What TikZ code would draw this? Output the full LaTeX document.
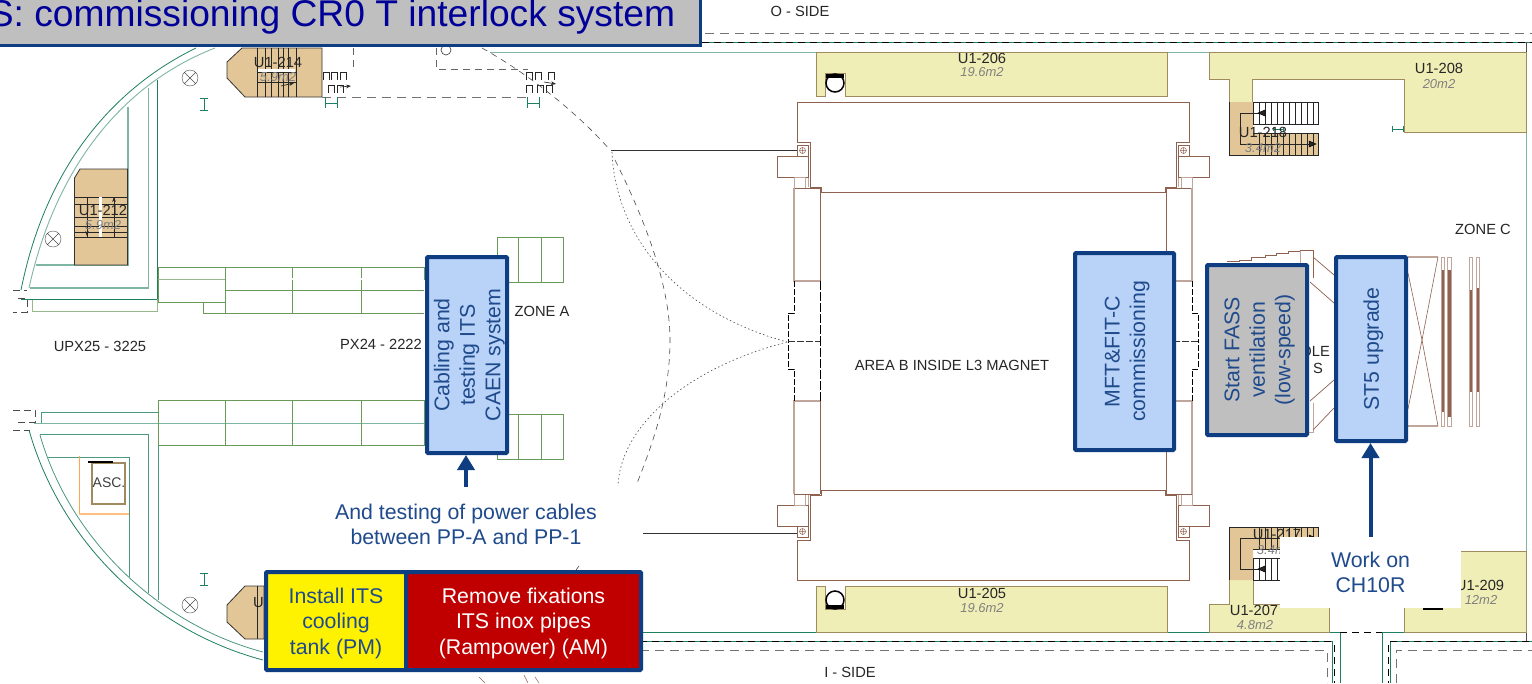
\documentclass[tikz,border=0pt]{standalone}
\usepackage{fontspec}
\usepackage{xcolor}
\setmainfont{Liberation Sans}
\usetikzlibrary{arrows.meta}
\definecolor{boxnavy}{HTML}{0F3D82}
\definecolor{notetext}{HTML}{1F4A8C}
\definecolor{boxblue}{HTML}{B9D2F7}
\definecolor{boxgray}{HTML}{BFBFBF}
\definecolor{boxred}{HTML}{C00000}
\definecolor{titleblue}{HTML}{000099}
\definecolor{roomfill}{HTML}{EFEEB6}
\definecolor{roomline}{HTML}{A08A60}
\definecolor{stairtan}{HTML}{E3C697}
\definecolor{magnet}{HTML}{8F6250}
\definecolor{magnetlight}{HTML}{BFA59A}
\definecolor{wall}{HTML}{1F7F62}
\definecolor{walllight}{HTML}{7FB5A3}
\definecolor{hall}{HTML}{6A9A5A}
\newcommand{\lampmark}[2]{\draw[black!70,thin] (#1,#2) circle (8pt) (#1-5.5,#2-5.5) -- (#1+5.5,#2+5.5) (#1-5.5,#2+5.5) -- (#1+5.5,#2-5.5);}
\newcommand{\doorpi}[2]{\draw[black!85,line width=.7pt] (#1,#2+8) -- (#1,#2) -- (#1+6,#2) -- (#1+6,#2+8);}
\newcommand{\toprow}{\rule{0pt}{20pt}}
\tikzset{
    taskbox/.style={draw=boxnavy,line width=4pt,rounded corners=1pt,text=notetext,align=center,inner sep=0pt,font=\fontsize{21.3}{25.5}\selectfont},
    note/.style={fill=white,text=notetext,align=center,inner sep=0pt,font=\fontsize{21.3}{25.5}\selectfont},
    taskarrow/.style={draw=boxnavy,line width=4pt,-{Triangle[length=15pt,width=17pt]}},
    label/.style={inner sep=0pt,font=\fontsize{14.7}{16}\selectfont,text=black!85},
    area/.style={inner sep=0pt,font=\fontsize{13}{14}\selectfont\itshape,text=black!50},
    room/.style={fill=roomfill,draw=roomline,line width=.9pt},
    stair/.style={fill=stairtan,draw=black!80,line width=.8pt},
    tread/.style={draw=black!85,line width=.8pt},
    ggdash/.style={draw=black!55,line width=1pt,dash pattern=on 9pt off 6pt},
    bkdash/.style={draw=black,line width=.8pt,dash pattern=on 7pt off 5pt},
    thindash/.style={draw=black!70,line width=.6pt,dash pattern=on 6pt off 5pt},
    thindot/.style={draw=black!70,line width=.6pt,dash pattern=on 1.5pt off 2.5pt},
    greenmark/.style={draw=wall,line width=1pt}
}
\begin{document}
\begin{tikzpicture}[x=1pt,y=-1pt]
    \useasboundingbox (0,0) rectangle (1532,683);
    \clip (0,0) rectangle (1532,683);
    \fill[white] (0,0) rectangle (1532,683);

    % outer walls
    \draw[ggdash] (690,33) -- (1532,33);
    \draw[wall,line width=.8pt] (690,42) -- (1532,42);
    \draw[bkdash] (690,42) -- (1532,42);
    \draw[walllight,line width=.9pt] (490,52) -- (1526,52) -- (1526,632);
    \draw[black!70,line width=.9pt] (1526,42) -- (1526,52) (1526,632) -- (1526,642);
    \draw[wall,line width=.8pt] (640,632) -- (1340,632) -- (1340,683);
    \draw[wall,line width=.8pt] (1382,683) -- (1382,632) -- (1526,632);
    \draw[bkdash] (1340,632) -- (1382,632);
    \draw[wall,line width=.8pt] (640,641) -- (1332,641) -- (1332,683);
    \draw[bkdash] (640,641) -- (1332,641) (1334,645) -- (1334,683);
    \draw[wall,line width=.8pt] (1390,683) -- (1390,641) -- (1532,641);
    \draw[bkdash] (1390,641) -- (1532,641) (1388,645) -- (1388,683);
    \draw[ggdash] (640,650) -- (1327,650) -- (1327,683);
    \draw[ggdash] (1396,683) -- (1396,650) -- (1532,650);

    % left curved walls
    \draw[wall,line width=.8pt] (196,48) .. controls (110,90) and (45,170) .. (21,290);
    \draw[walllight,line width=.9pt] (215,48) .. controls (120,85) and (55,170) .. (29,288);
    \draw[wall,line width=.8pt] (29,430) .. controls (60,540) and (150,630) .. (263,660);
    \draw[wall!80,line width=.8pt] (40,435) .. controls (70,540) and (160,625) .. (263,652);
    \draw[walllight,line width=1.2pt] (128,107) -- (128,265) -- (36,265);
    \draw[walllight,line width=1.2pt] (148.5,88) -- (148.5,288) -- (30,288);
    \draw[wall,line width=.8pt] (157,80) -- (157,299) -- (21,299);
    \draw[hall!70,line width=1pt] (32,300) -- (32,311) -- (157,311) -- (157,299);
    \draw[wall!80,line width=.8pt] (41,423) -- (41,412) -- (158,412) -- (158,600);
    \draw[walllight,line width=1pt] (34,423) -- (424,423);
    \draw[wall!80,line width=.8pt] (40,434) -- (148.5,434) -- (148.5,593);
    \draw[wall!80,line width=.8pt] (48,457) -- (129,457) -- (129,577);
    \draw[black!70,line width=.7pt,dash pattern=on 7pt off 4pt] (13,290) -- (27,290) (18,298) -- (27,298) -- (27,312) -- (13,312);
    \draw[black!70,line width=.7pt,dash pattern=on 7pt off 4pt] (13,410) -- (35,410) -- (35,422) -- (18,422) (13,430) -- (30,430);

    % lift
    \draw[orange!70,line width=1pt] (79,456) -- (79,513);
    \draw[orange!50,line width=2.5pt] (79,514) -- (129,514);
    \draw[roomline,line width=1.2pt] (92,463) rectangle (125,504);
    \draw[black,line width=1.5pt] (88,462) -- (113,462);
    \node[inner sep=0pt,font=\fontsize{14}{16}\selectfont,text=black!75] (asc) at (109,483) {ASC.};

    % halls on the A side
    \draw[hall,line width=.8pt] (158,267) rectangle (424,279);
    \draw[hall,line width=.8pt] (158,267) -- (158,302) -- (225,302) (225,267) -- (225,313) (292.5,267) -- (292.5,313) (361,267) -- (361,313) (225,290) -- (424,290) (203,302) -- (203,313) -- (424,313);
    \draw[white,line width=1.2pt] (226,279) -- (424,279);
    \draw[hall!70,line width=.8pt] (158,279) -- (225,279);
    \draw[hall,line width=.8pt] (158,400) rectangle (424,445);
    \foreach \x in {225,292.5,361} {
        \draw[hall,line width=.8pt] (\x,400) -- (\x,445);
    }
    \draw[hall,line width=.8pt] (497,237) rectangle (563,282) (518.5,237) -- (518.5,282) (541,237) -- (541,282);
    \draw[hall,line width=.8pt] (497,414) rectangle (563,459) (518.5,414) -- (518.5,459) (541,414) -- (541,459);

    % stairs on the left
    \draw[stair] (74.5,178) -- (80,169) -- (127.5,169) -- (127.5,265) -- (74.5,265) -- cycle;
    \foreach \y in {197,204,217,226,232,237} {
        \draw[tread] (75,\y) -- (127,\y);
    }
    \draw[tread] (87,197) -- (87,237) (114,197) -- (114,237);
    \draw[white,line width=2.5pt] (100.5,197) -- (100.5,237);
    \draw[black!85,line width=.7pt,-{Stealth[length=5pt]}] (114,212) -- (114,197);
    \draw[black!85,line width=.7pt,-{Stealth[length=5pt]}] (87,226) -- (87,236);
    \node[label] (ul212) at (103,210) {U1-212};
    \node[area] (ar212) at (103,225) {5.9m2};

    \draw[stair] (242,48) -- (227,62) -- (227,78) -- (245,97) -- (322,97) -- (322,48) -- cycle;
    \foreach \x in {257,265,271,278,283,288,296} {
        \draw[tread] (\x,48) -- (\x,97);
    }
    \draw[tread] (257,82) -- (296,82);
    \fill[white] (258,69) rectangle (295,72);
    \draw[tread] (257,72) -- (296,72);
    \draw[black!85,line width=.7pt,-{Stealth[length=5pt]}] (281,86) -- (294,83);
    \node[label] (ul214) at (278,62) {U1-214};
    \node[area] (ar214) at (278,77) {5.9m2};

    \draw[stair] (245,586) -- (227,605) -- (227,622) -- (245,639) -- (264,639) -- (264,586) -- cycle;
    \draw[tread] (257,586) -- (257,639);
    \node[label,anchor=west] (ul214b) at (253,603) {U};

    % fire doors
    \draw[ggdash] (322,97) -- (528,97);
    \draw[black!60,line width=.9pt,dash pattern=on 7pt off 5pt] (353,48) -- (353,71);
    \draw[black!60,line width=.9pt,dash pattern=on 7pt off 5pt] (436,48) -- (436,69) -- (528,69);
    \draw[black!70,line width=.7pt] (446,50) circle (5pt);
    \foreach \x in {323,331,340,526,535,548} {
        \doorpi{\x}{72}
    }
    \foreach \x in {328,337,526,537,546} {
        \doorpi{\x}{85}
    }
    \draw[-{Stealth[length=5pt]},black!85,line width=.6pt] (340,87) -- (351,86);
    \draw[-{Stealth[length=5pt]},black!85,line width=.6pt] (544,82) -- (556,84);

    % little marks
    \lampmark{190}{78}
    \lampmark{53}{239}
    \lampmark{190}{605}
    \foreach \y in {104,579} {
        \draw[greenmark] (200,\y-6) -- (208,\y-6) (204,\y-6) -- (204,\y+6) (200,\y+6) -- (208,\y+6);
    }
    \foreach \x in {331,533} {
        \draw[greenmark] (\x-6,97) -- (\x-6,108) (\x-6,103) -- (\x+6,103) (\x+6,97) -- (\x+6,108);
    }
    \draw[greenmark] (1392,126) -- (1392,132) (1392,129) -- (1403,129) (1403,126) -- (1403,132);

    % magnet tunnel lines
    \draw[thindash] (482,48) .. controls (525,72) and (575,110) .. (610,150);
    \draw[black!80,line width=.8pt] (611,150) -- (797,150);
    \draw[black!80,line width=.8pt] (643,533) -- (797,533);
    \draw[thindot] (612,152) .. controls (615,230) and (670,310) .. (787,342);
    \draw[thindot] (787,342) .. controls (680,370) and (620,430) .. (618,486);
    \draw[thindash] (615,160) .. controls (640,210) and (670,280) .. (670,340) .. controls (670,400) and (650,450) .. (636,486);

    % magnet
    \foreach \sx/\sy in {1/1,-1/1,1/-1,-1/-1} {
        \begin{scope}[shift={(993,341)},xscale=\sx,yscale=\sy]
            \draw[magnet,line width=.9pt] (0,-239) -- (-196,-239) -- (-196,-199) -- (-183,-199) -- (-183,-154) -- (-172,-154) -- (-172,-149) -- (0,-149);
            \draw[magnetlight,line width=.9pt] (-196,-196) -- (-185,-196) -- (-185,-154);
            \draw[magnet,line width=.8pt] (-196,-196) rectangle (-185,-185);
            \draw[magnet,line width=.5pt] (-190.5,-190.5) circle (3pt) (-193.5,-190.5) -- (-187.5,-190.5) (-190.5,-193.5) -- (-190.5,-187.5);
            \draw[magnet,line width=.9pt,fill=white] (-216,-185) rectangle (-185,-164);
            \draw[magnetlight,line width=.9pt] (-199,-164) rectangle (-188,-153);
            \draw[magnet,line width=.8pt] (-173,-153) -- (-173,-60) (-199,-153) -- (-173,-153);
            \draw[magnetlight,line width=1.2pt] (-199,-153) -- (-199,-60) -- (-173,-60);
            \draw[black,line width=.7pt,dash pattern=on 6pt off 2pt] (-199,-60) -- (-199,-28) -- (-205,-28) -- (-205,0);
            \draw[black,line width=.7pt,dash pattern=on 9pt off 2pt] (-173,-60) -- (-173,0);
            \draw[black!80,line width=.7pt,dash pattern=on 7pt off 2pt] (-205,0) -- (-173,0);
        \end{scope}
    }

    % rooms
    \draw[room] (816,52) -- (1167,52) -- (1167,96) -- (845,96) -- (845,73) -- (825,73) -- (825,96) -- (816,96) -- cycle;
    \draw[room] (816,586) -- (825,586) -- (825,609) -- (845,609) -- (845,586) -- (1167,586) -- (1167,632) -- (816,632) -- cycle;
    \draw[room] (1209,52) -- (1526,52) -- (1526,132) -- (1404,132) -- (1404,79) -- (1252,79) -- (1252,102) -- (1229,102) -- (1229,79) -- (1209,79) -- cycle;
    \draw[room] (1229,580) -- (1229,604) -- (1209,604) -- (1209,632) -- (1329,632) -- (1329,604) -- (1253,604) -- (1253,580);
    \draw[room] (1404,551) -- (1526,551) -- (1526,632) -- (1404,632) -- cycle;
    \draw[black,line width=1.5pt,fill=white] (835,83) circle (9pt);
    \fill[black] (826,73.5) rectangle (844,78);
    \draw[black,line width=1.5pt,fill=white] (835,600) circle (9pt);
    \fill[black] (826,604.5) rectangle (844,609);
    \draw[black,line width=2pt] (1423,609) -- (1443,609);

    % stairs on the right
    \foreach \sy in {1,-1} {
        \begin{scope}[shift={(0,341)},yscale=\sy]
            \fill[stairtan] (1229,-239) -- (1253,-239) -- (1253,-208) -- (1318,-208) -- (1318,-186) -- (1229,-186) -- cycle;
            \draw[tread] (1229,-239) -- (1229,-186) -- (1318,-186) -- (1318,-208) -- (1253,-208) (1253,-239) -- (1318,-239) -- (1318,-217) -- (1253,-217) -- cycle;
            \foreach \x in {1259,1265,...,1313} {
                \draw[tread] (\x,-239) -- (\x,-217) (\x,-208) -- (\x,-186);
            }
            \draw[tread] (1265,-228) -- (1240,-228) -- (1240,-197) -- (1313,-197);
            \draw[fill=black!85,line width=.5pt] (1258,-228) -- (1265,-231) -- (1265,-225) -- cycle;
            \draw[fill=black!85,line width=.5pt] (1316,-197) -- (1309,-200) -- (1309,-194) -- cycle;
        \end{scope}
    }
    \draw[greenmark] (1273,127) -- (1273,131) (1273,129) -- (1283,129) (1283,127) -- (1283,131);

    % ventilation door and plugs
    \draw[magnet,line width=.9pt] (1227,261) -- (1239,261) -- (1239,260) -- (1251,260) -- (1251,257) -- (1265,257) -- (1265,255) -- (1276,255) -- (1276,253) -- (1288,253) -- (1288,251) -- (1300,251) -- (1300,250) -- (1313,250) -- (1313,278);
    \draw[magnetlight,line width=.9pt] (1300,251) -- (1300,263) (1313,403) -- (1313,432) -- (1305,432);
    \draw[magnet,line width=.7pt] (1313,257) -- (1334,275) (1310,282) -- (1334,303) (1310,401) -- (1334,380) (1313,430) -- (1334,408);
    \draw[magnetlight,line width=1.2pt] (1408,257) -- (1438,257);
    \draw[magnetlight,line width=1.2pt] (1408,426) -- (1438,426);
    \draw[magnet,line width=.6pt] (1408,273) -- (1422,340) -- (1438,257);
    \draw[magnet,line width=.6pt] (1408,409) -- (1422,340) -- (1438,426);
    \foreach \a/\b/\c/\d in {1441/1444/270/412,1447/1451/270/417,1469/1472/290/392,1476/1479/288/392} {
        \draw[magnetlight,line width=.9pt] (\a,257) rectangle (\b,426);
        \fill[magnet] (\a+.5,\c) rectangle (\b-.5,\d);
    }

    % door remains
    \draw[magnet,line width=.5pt] (479,677) -- (485,683) (524,675) -- (528,683) (535,677) -- (539,683);
    \draw[black!70,line width=.6pt] (579,566) -- (576,570);

    % labels
    \node[label] (oside) at (800,11) {O - SIDE};
    \node[label] (iside) at (850,672) {I - SIDE};
    \node[label] (zonea) at (542,311) {ZONE A};
    \node[label] (zonec) at (1483,229) {ZONE C};
    \node[label] (upx) at (100,346) {UPX25 - 3225};
    \node[label] (px) at (381,344) {PX24 - 2222};
    \node[label] (areab) at (952,365) {AREA B INSIDE L3 MAGNET};
    \node[label,anchor=east] (ole) at (1330,351) {OLE};
    \node[label,anchor=east] (ess) at (1323,368) {S};
    \node[label] (ul206) at (982,58) {U1-206};
    \node[area] (ar206) at (982,72) {19.6m2};
    \node[label] (ul205) at (982,593) {U1-205};
    \node[area] (ar205) at (982,608) {19.6m2};
    \node[label] (ul208) at (1439,68) {U1-208};
    \node[area] (ar208) at (1439,84) {20m2};
    \node[label] (ul218) at (1263,132) {U1-218};
    \node[area] (ar218) at (1263,148) {3.4m2};
    \node[label] (ul217) at (1277,534) {U1-217};
    \node[area] (ar217) at (1275,550) {3.4m2};
    \node[label] (ul207) at (1254,610) {U1-207};
    \node[area] (ar207) at (1255,625) {4.8m2};
    \node[label] (ul209) at (1480,585) {U1-209};
    \node[area] (ar209) at (1481,600) {12m2};

    % tasks
    \node[note,minimum width=354pt,minimum height=75pt] (cables) at (466,524.5) {And testing of power cables\\between PP-A and PP-1};
    \node[note,minimum width=181pt,minimum height=71pt] (work) at (1370.5,572.5) {Work on\\CH10R};
    \node[taskbox,fill=boxblue,rotate=90,minimum width=196pt,minimum height=80pt] (cabling) at (467,355) {\toprow Cabling and\\testing ITS\\CAEN system};
    \node[taskbox,fill=boxblue,rotate=90,minimum width=197pt,minimum height=99pt] (mft) at (1124.5,351.5) {\toprow MFT\&FIT-C\\commissioning};
    \node[taskbox,fill=boxgray,rotate=90,minimum width=170pt,minimum height=100pt] (fass) at (1257,350) {\toprow Start FASS\\ventilation\\(low-speed)};
    \node[taskbox,fill=boxblue,rotate=90,minimum width=184pt,minimum height=70pt] (st5) at (1371,349) {\toprow ST5 upgrade};
    \node[taskbox,fill=yellow,minimum width=140pt,minimum height=98pt] (tank) at (336,621) {\toprow Install ITS\\cooling\\tank (PM)};
    \node[taskbox,fill=boxred,text=white,minimum width=235pt,minimum height=98pt] (pipes) at (523.5,621) {\toprow Remove fixations\\ITS inox pipes\\(Rampower) (AM)};
    \node[draw=boxnavy,line width=3pt,fill=boxgray,text=titleblue,inner sep=0pt,minimum width=736pt,minimum height=56pt,font=\fontsize{37.2}{40}\selectfont] (title) at (332,17) {S: commissioning CR0 T interlock system};
    \draw[taskarrow] (cables.north) -- (cables.north |- cabling.west);
    \draw[taskarrow] (work.north) -- (work.north |- st5.west);
\end{tikzpicture}
\end{document}
